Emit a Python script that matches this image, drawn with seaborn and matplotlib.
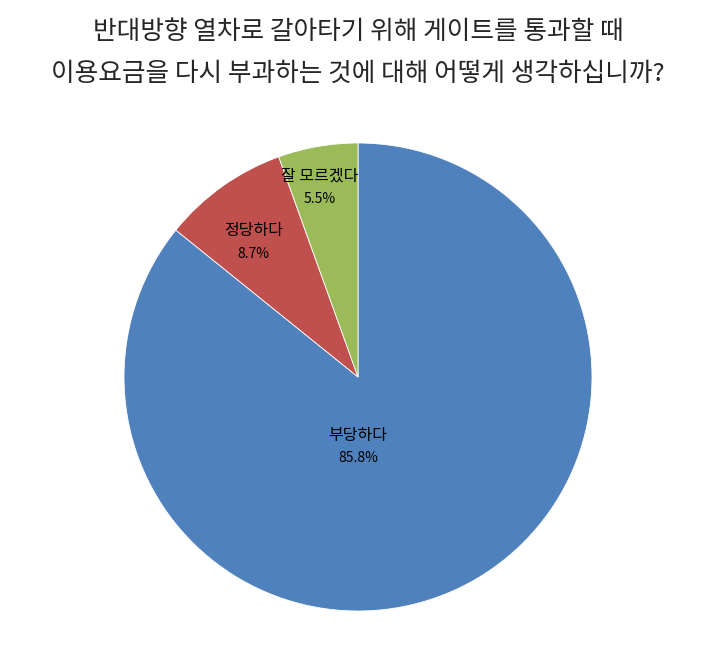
import matplotlib
matplotlib.use("Agg")
import matplotlib.pyplot as plt
import seaborn as sns

sns.set_theme(style="white")
plt.rcParams['font.family'] = ['Noto Sans CJK KR', 'DejaVu Sans']

# 데이터
labels = ['부당하다', '정당하다', '잘 모르겠다']
values = [85.8, 8.7, 5.5]
colors = ['#4F81BD', '#C0504D', '#9BBB59']
title_lines = ['반대방향 열차로 갈아타기 위해 게이트를 통과할 때',
               '이용요금을 다시 부과하는 것에 대해 어떻게 생각하십니까?']
# 라벨 위치 (파이 반지름 기준)
label_pos = [(0.0, -0.30), (-0.445, 0.575), (-0.163, 0.81)]

fig = plt.figure(figsize=(7.01, 6.52), dpi=100)
fig.patch.set_facecolor('white')

cx, cy, r = 358, 652 - 377, 234
ax = fig.add_axes([(cx - r) / 701, (cy - r) / 652, 2 * r / 701, 2 * r / 652])
ax.pie(values, colors=colors, startangle=90, counterclock=False,
       wedgeprops=dict(edgecolor='white', linewidth=0.6))
ax.set_xlim(-1, 1)
ax.set_ylim(-1, 1)
ax.set_aspect('equal')
ax.axis('off')

for lab, v, (x, y) in zip(labels, values, label_pos):
    ax.text(x, y + 0.05, lab, ha='center', va='center', fontsize=11.5, color='black')
    ax.text(x, y - 0.048, f'{v:.1f}%', ha='center', va='center', fontsize=10, color='black')

fig.text(358 / 701, 1 - 32 / 652, title_lines[0], ha='center', va='center', fontsize=18.5)
fig.text(358 / 701, 1 - 74 / 652, title_lines[1], ha='center', va='center', fontsize=18.5)

fig.savefig('out.png', dpi=100, facecolor='white')
